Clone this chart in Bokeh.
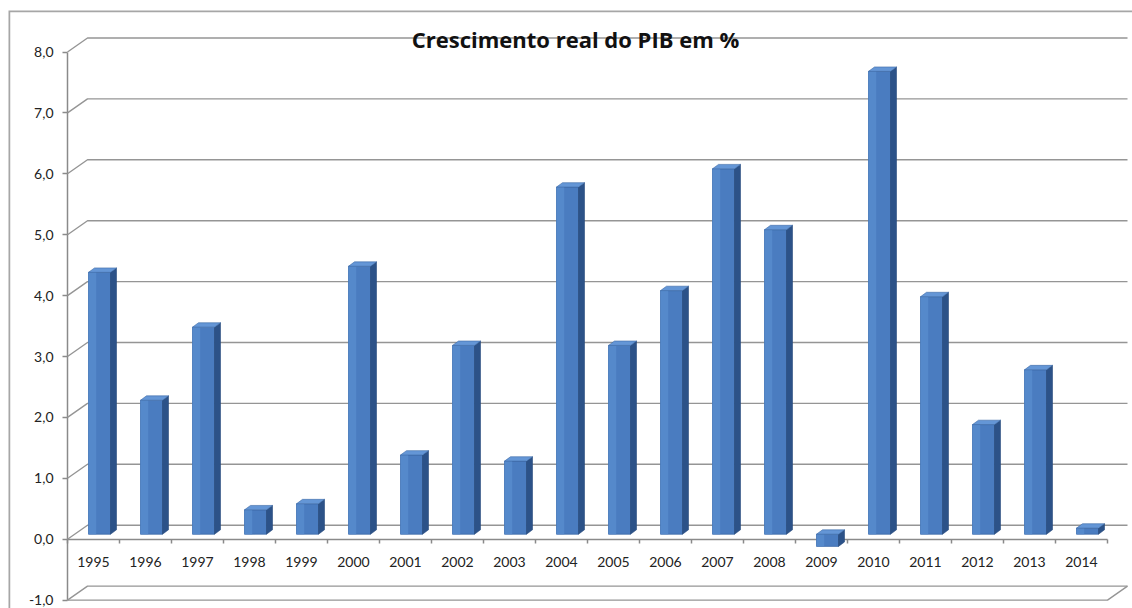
import numpy as np
from bokeh.plotting import figure
from bokeh.models import (LinearAxis, FixedTicker, CustomJSTickFormatter,
                          Range1d, Label)
from bokeh.embed import file_html
from bokeh.resources import INLINE

# ---------------- data ----------------
years = ["1995", "1996", "1997", "1998", "1999", "2000", "2001", "2002", "2003", "2004",
         "2005", "2006", "2007", "2008", "2009", "2010", "2011", "2012", "2013", "2014"]
growth = [4.3, 2.2, 3.4, 0.4, 0.5, 4.4, 1.3, 3.1, 1.2, 5.7,
          3.1, 4.0, 6.0, 5.0, -0.2, 7.6, 3.9, 1.8, 2.7, 0.1]
y_ticks = [-1, 0, 1, 2, 3, 4, 5, 6, 7, 8]
title_text = "Crescimento real do PIB em %"

# ---------------- geometry (pixels -> data units) ----------------
W, H = 1132, 608
LEFT, TOP = 8, 10             # outer chart border
PX_X = 52.0   # pixels per category
PX_Y = 60.9   # pixels per 1.0 on value axis
AXIS_X = 67.0                 # pixel column of the value axis
TOP8 = 51.5                   # pixel row of the top tick
x_start = -(AXIS_X - LEFT) / PX_X
x_end = x_start + (W - LEFT) / PX_X
y_end = y_ticks[-1] + (TOP8 - TOP) / PX_Y
y_start = y_end - (H - TOP) / PX_Y

DX, DY = 20.0 / PX_X, 14.0 / PX_Y     # depth of 3D walls
OX, OY = 6.0 / PX_X, 5.0 / PX_Y       # bars placed inside the depth
HW = 11.0 / PX_X                       # half width of bar front face
SW, SH = 6.0 / PX_X, 4.4 / PX_Y        # bar side/top depth

n = len(years)
vals = np.array(growth, dtype=float)
idx = np.arange(n)
cx = idx + 0.5 + OX
x0 = cx - HW
x1 = cx + HW
bot = np.minimum(vals, 0) + OY
top = np.maximum(vals, 0) + OY

p = figure(width=W, height=H, output_backend="svg", toolbar_location=None,
           x_axis_type=None, y_axis_type=None,
           x_range=Range1d(x_start, x_end), y_range=Range1d(y_start, y_end),
           min_border=0, min_border_left=LEFT, min_border_top=TOP)
p.background_fill_color = "white"
p.border_fill_color = "white"
p.outline_line_color = None

# outer chart border: left and top edges of the frame (clipped to half width)
p.line([x_start, x_start, x_end], [y_start, y_end, y_end],
       line_color="#a6a6a6", line_width=3.5)

grid_col = "#959595"
gx = [[0, DX, n + DX] for v in y_ticks]
gy = [[v, v + DY, v + DY] for v in y_ticks]
p.multi_line(gx, gy, line_color=grid_col, line_width=1.4)
ymin = y_ticks[0]
p.multi_line([[0, n, n + DX]], [[ymin, ymin, ymin + DY]],
             line_color=grid_col, line_width=1.4)

p.quad(left=x0, right=x1, bottom=bot, top=top,
       fill_color="#4a7cc0", line_color="#3d6aa6", line_width=0.8)
p.quad(left=x0, right=x0 + (x1 - x0) * 0.35, bottom=bot, top=top,
       fill_color="#5589cb", line_color=None)
side_xs = [[a, a + SW, a + SW, a] for a in x1]
side_ys = [[b, b + SH, t + SH, t] for b, t in zip(bot, top)]
p.patches(side_xs, side_ys, fill_color="#2c5288", line_color="#264a7c", line_width=0.6)
top_xs = [[a, b, b + SW, a + SW] for a, b in zip(x0, x1)]
top_ys = [[t, t, t + SH, t + SH] for t in top]
p.patches(top_xs, top_ys, fill_color="#6496d6", line_color="#3d6aa6", line_width=0.6)

yaxis = LinearAxis(fixed_location=0,
                   ticker=FixedTicker(ticks=y_ticks),
                   formatter=CustomJSTickFormatter(code="return tick.toFixed(1).replace('.', ',');"),
                   bounds=(y_ticks[0], y_ticks[-1]))
yaxis.axis_line_color = "#8a8a8a"
yaxis.axis_line_width = 1.5
yaxis.major_tick_line_color = "#8a8a8a"
yaxis.major_tick_line_width = 1.5
yaxis.major_tick_out = 5
yaxis.major_tick_in = 0
yaxis.minor_tick_line_color = None
yaxis.major_label_standoff = 9
yaxis.major_label_text_font = "Lato"
yaxis.major_label_text_font_size = "14px"
yaxis.major_label_text_color = "#222222"
yaxis.level = "underlay"
p.add_layout(yaxis, "left")

xaxis = LinearAxis(fixed_location=0,
                   ticker=FixedTicker(ticks=[i + 0.5 for i in range(n)],
                                      minor_ticks=list(range(n + 1))),
                   formatter=CustomJSTickFormatter(args=dict(years=years),
                                                   code="return years[Math.floor(tick)];"),
                   bounds=(0, n))
xaxis.axis_line_color = "#8a8a8a"
xaxis.axis_line_width = 1.5
xaxis.major_tick_out = 0
xaxis.major_tick_in = 0
xaxis.major_tick_line_color = None
xaxis.minor_tick_line_color = "#8a8a8a"
xaxis.minor_tick_line_width = 1.5
xaxis.minor_tick_out = 4
xaxis.minor_tick_in = 0
xaxis.major_label_standoff = 14
xaxis.major_label_text_font = "Lato"
xaxis.major_label_text_font_size = "14px"
xaxis.major_label_text_color = "#222222"
xaxis.level = "underlay"
p.add_layout(xaxis, "below")

p.add_layout(Label(x=9.77, y=8.21, text=title_text, text_align="center",
                   text_baseline="middle", text_font="Open Sans", text_font_style="bold",
                   text_font_size="22px", text_color="#111111"))

open("out.html", "w").write(file_html(p, INLINE))
